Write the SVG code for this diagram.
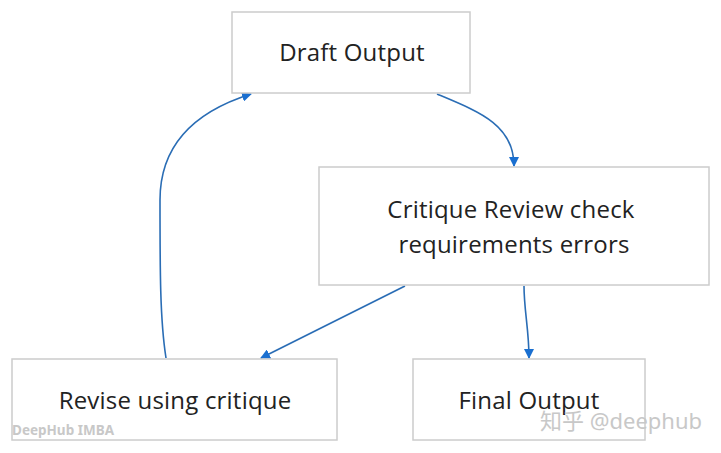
<svg xmlns="http://www.w3.org/2000/svg" width="721" height="453" viewBox="0 0 721 453">
<style>
.box{fill:#fff;stroke:#cccccc;stroke-width:1.5}
.lbl{font-family:"Open Sans","Noto Sans",sans-serif;font-size:24px;letter-spacing:0.2px;fill:#222;text-anchor:middle}
.edge{fill:none;stroke:#2a6db5;stroke-width:1.6}
.wm{font-family:"Noto Sans","Noto Sans CJK SC",sans-serif;fill:#c8c8c8}
</style>
<defs>
<marker id="ah" viewBox="0 0 10 10" refX="9" refY="5" markerWidth="10" markerHeight="10" markerUnits="userSpaceOnUse" orient="auto">
<path d="M0,0 L10,5 L0,10 z" fill="#1a6fd0"/>
</marker>
</defs>
<rect width="721" height="453" fill="#fff"/>
<g id="connectors">
<path class="edge" d="M437,94 C480,112 514,125 514,166" marker-end="url(#ah)"/>
<path class="edge" d="M405,286 L261,358" marker-end="url(#ah)"/>
<path class="edge" d="M524,286 C524,310 529,330 529,358" marker-end="url(#ah)"/>
<path class="edge" d="M166,358 C160,320 160,270 160,200 C160,140 200,110 251,94" marker-end="url(#ah)"/>
</g>
<g id="draft">
<rect class="box" x="232" y="12" width="238" height="81"/>
<text class="lbl" x="352" y="61">Draft Output</text>
</g>
<g id="critique">
<rect class="box" x="319" y="167" width="390" height="118"/>
<text class="lbl" x="511" y="218">Critique Review check</text>
<text class="lbl" x="514" y="253">requirements errors</text>
</g>
<g id="revise">
<rect class="box" x="12" y="359" width="325" height="81"/>
<text class="lbl" x="175" y="409">Revise using critique</text>
</g>
<g id="final">
<rect class="box" x="413" y="359" width="232" height="81"/>
<text class="lbl" x="529" y="409">Final Output</text>
</g>
<text class="wm" x="12" y="435" font-size="13.5" font-weight="bold">DeepHub IMBA</text>
<text class="wm" x="540" y="429" font-size="22">知乎 @deephub</text>
</svg>
